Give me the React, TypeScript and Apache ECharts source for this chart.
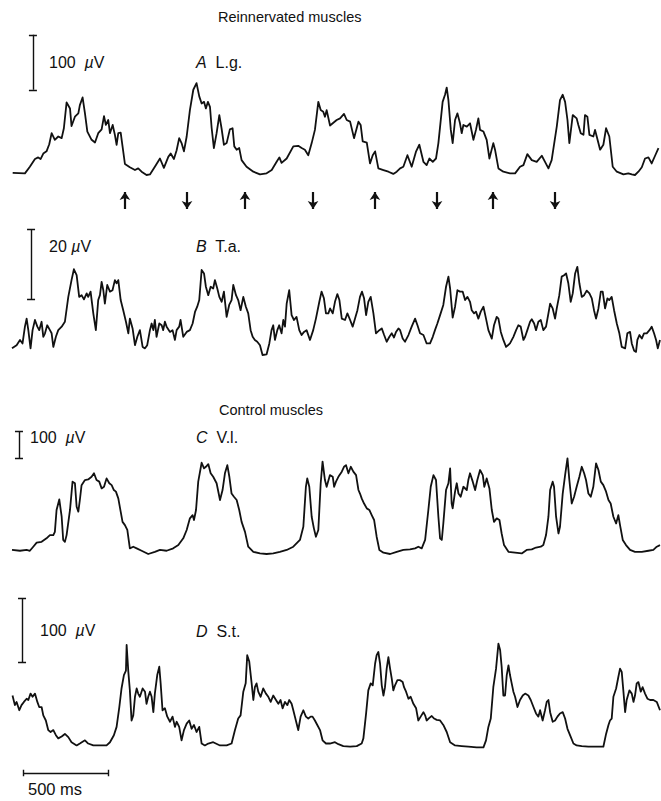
import React, { useEffect, useRef } from "react";
import * as echarts from "echarts";

// time (ms) , amplitude (µV above trace baseline)
const traceA: [number, number][] = [
  [4,4],[76,3],[105,15],[135,29],[154,32],[168,29],[184,39],[203,43],[219,56],[233,76],[252,64],[272,70],[292,67],[305,85],[321,132],[341,121],[350,89],[370,106],[390,112],[399,127],[415,141],[429,112],[443,79],[468,64],[488,59],[507,76],[527,83],[541,107],[552,91],[566,100],[576,76],[592,91],[605,73],[615,55],[625,76],[639,77],[650,52],[664,20],[693,14],[723,9],[742,12],[762,6],[791,0],[811,1],[840,15],[870,30],[893,13],[919,33],[933,39],[952,29],[968,45],[983,67],[997,58],[1011,43],[1027,70],[1046,118],[1066,155],[1085,167],[1101,143],[1115,130],[1129,133],[1140,121],[1152,133],[1164,124],[1174,85],[1187,49],[1203,76],[1219,109],[1232,85],[1246,55],[1262,58],[1281,83],[1297,85],[1307,52],[1321,46],[1336,49],[1350,27],[1379,15],[1419,6],[1458,1],[1497,3],[1527,9],[1556,24],[1572,32],[1585,22],[1615,30],[1654,52],[1683,53],[1703,49],[1722,46],[1742,36],[1762,58],[1781,82],[1801,133],[1815,118],[1830,115],[1840,106],[1850,118],[1870,90],
  [1886,94],[1909,100],[1929,103],[1952,111],[1968,100],[1988,97],[2011,67],[2037,97],[2050,91],[2062,61],[2086,59],[2105,21],[2121,36],[2135,43],[2154,12],[2184,9],[2213,6],[2242,2],[2262,6],[2282,12],[2301,15],[2325,36],[2350,15],[2376,43],[2395,55],[2419,24],[2438,18],[2454,30],[2474,24],[2493,30],[2507,58],[2532,133],[2546,146],[2556,159],[2566,136],[2580,82],[2591,58],[2605,100],[2619,112],[2634,94],[2644,76],[2654,91],[2674,88],[2693,94],[2713,64],[2728,82],[2742,103],[2752,82],[2772,79],[2791,64],[2807,30],[2830,58],[2840,46],[2860,12],[2889,6],[2928,3],[2958,3],[2987,15],[3007,18],[3030,38],[3056,27],[3085,24],[3115,35],[3134,24],[3154,12],[3173,27],[3203,88],[3222,136],[3238,146],[3252,133],[3266,100],[3277,58],[3297,109],[3320,103],[3330,91],[3344,76],[3360,73],[3369,109],[3383,106],[3395,73],[3418,70],[3428,82],[3438,70],[3458,46],[3477,55],[3493,85],[3512,70],[3532,15],[3556,6],[3595,1],[3624,3],[3644,1],[3663,0],[3683,6],[3703,14],[3722,30],[3742,32],[3761,21],[3781,35],[3801,49]
];

const traceB: [number, number][] = [
  [0,1.9],[27,2.8],[47,4.3],[62,3.3],[76,8.1],[86,10.4],[96,7.1],[109,1.9],[121,7.1],[135,10.0],[149,8.1],[160,7.1],[174,9.5],[184,5.2],[194,6.2],[207,8.5],[223,7.1],[233,6.2],[243,2.3],[258,5.2],[272,7.1],[292,8.1],[311,9.5],[331,16.6],[350,21.4],[364,24.5],[380,22.8],[395,16.6],[409,17.1],[423,15.9],[439,17.6],[448,16.6],[462,18.1],[478,11.9],[493,7.1],[507,15.7],[517,17.1],[527,20.9],[537,18.5],[546,14.7],[560,20.0],[576,18.1],[591,18.5],[605,21.4],[615,20.5],[625,21.4],[639,15.7],[654,12.8],[670,9.5],[684,6.2],[693,10.4],[709,7.6],[723,2.8],[737,5.2],[752,7.1],[768,2.3],[782,1.9],[795,2.8],[811,7.1],[821,9.0],[831,7.1],[840,10.0],[850,5.2],[866,9.0],[880,8.5],[889,7.1],[899,9.5],[909,8.1],[929,6.6],[944,7.1],[958,4.3],[968,7.1],[983,8.1],[991,10.0],[1007,5.2],[1027,6.6],[1046,7.1],[1062,9.0],[1076,12.3],[1089,13.8],[1101,15.7],[1115,24.3],[1129,23.3],[1140,19.5],[1154,17.1],[1168,19.5],[1183,19.0],[1193,21.4],[1207,19.0],[1219,16.6],[1233,15.2],[1246,18.1],[1262,10.9],[1277,14.3],[1291,15.7],[1301,20.0],[1317,17.1],[1330,15.7],[1344,12.8],[1360,16.6],[1375,13.8],[1389,11.9],[1403,7.1],[1415,5.2],[1428,4.3],[1442,3.8],[1458,2.8],[1473,0],[1497,0.2],[1513,3.3],[1526,7.1],[1536,8.5],[1546,4.3],[1560,7.1],[1571,8.5],[1585,6.2],[1595,10.0],[1605,8.1],[1615,14.7],[1630,18.5],[1644,11.4],[1658,10.0],[1673,10.9],[1689,7.1],[1703,5.7],[1717,6.6],[1732,7.1],[1752,4.3],[1771,7.1],[1787,10.4],[1807,15.2],[1820,18.1],[1834,16.2],[1846,11.9],[1860,11.9],[1870,13.3],
  [1886,11.9],[1899,15.2],[1913,17.4],[1925,15.7],[1939,10.4],[1958,10.0],[1972,11.9],[1988,10.0],[2003,8.1],[2017,10.4],[2031,12.8],[2046,16.6],[2058,18.1],[2070,16.2],[2082,11.4],[2095,15.2],[2109,16.6],[2125,11.9],[2140,6.2],[2160,7.1],[2174,7.6],[2188,5.7],[2203,3.8],[2219,5.2],[2233,6.2],[2246,5.0],[2258,6.6],[2272,7.6],[2282,7.1],[2297,4.7],[2311,3.8],[2331,5.7],[2350,8.1],[2370,10.4],[2384,8.5],[2399,6.2],[2419,5.7],[2438,3.3],[2458,3.3],[2474,5.2],[2487,7.1],[2501,9.0],[2517,11.4],[2536,14.3],[2552,19.5],[2566,22.4],[2576,19.0],[2591,10.7],[2605,13.8],[2619,18.5],[2634,18.1],[2650,18.1],[2664,15.7],[2678,16.6],[2693,15.2],[2703,12.8],[2717,11.9],[2728,12.4],[2742,10.4],[2756,12.4],[2772,13.8],[2787,10.4],[2801,7.1],[2821,4.7],[2834,8.5],[2850,10.9],[2860,10.4],[2874,6.6],[2889,4.3],[2905,2.3],[2928,3.3],[2948,5.2],[2964,7.1],[2977,8.5],[2991,8.1],[3007,4.3],[3017,5.2],[3030,7.1],[3046,9.5],[3056,10.2],[3070,9.0],[3081,7.1],[3095,9.5],[3109,10.0],[3124,7.1],[3140,8.1],[3154,11.9],[3164,14.7],[3179,13.3],[3193,10.4],[3203,13.3],[3218,17.1],[3232,22.4],[3246,22.8],[3258,23.3],[3271,20.5],[3285,15.2],[3297,17.6],[3311,23.3],[3324,25.2],[3336,20.5],[3350,16.6],[3364,17.1],[3379,18.4],[3395,17.6],[3409,16.2],[3422,12.8],[3434,10.4],[3448,13.3],[3462,18.1],[3473,18.1],[3487,13.3],[3501,16.2],[3512,15.7],[3526,16.6],[3540,12.8],[3556,9.0],[3571,6.2],[3585,2.3],[3605,1.9],[3618,6.2],[3634,6.6],[3644,3.3],[3658,1.2],[3669,0.9],[3677,4.3],[3689,5.7],[3703,4.7],[3716,6.2],[3732,6.2],[3748,7.1],[3761,8.1],[3775,6.2],[3787,4.3],[3797,1.9],[3810,4.3]
];

const traceC: [number, number][] = [
  [0,15],[47,12],[86,15],[105,12],[125,27],[145,42],[174,45],[203,58],[223,70],[243,70],[252,82],[262,163],[278,202],[292,138],[301,52],[311,45],[321,70],[341,163],[356,268],[370,262],[380,175],[390,157],[399,200],[409,255],[429,274],[448,276],[468,286],[482,299],[497,274],[513,268],[527,243],[541,249],[556,280],[572,262],[586,255],[599,237],[611,231],[625,206],[639,157],[650,119],[664,107],[678,89],[693,21],[713,27],[733,21],[762,12],[801,0],[840,8],[870,15],[909,12],[948,21],[978,33],[1007,58],[1027,89],[1046,132],[1062,144],[1070,126],[1082,163],[1095,268],[1115,338],[1129,317],[1140,323],[1154,333],[1168,299],[1183,286],[1203,262],[1223,200],[1238,237],[1252,299],[1266,329],[1278,286],[1291,224],[1305,212],[1321,200],[1336,163],[1350,119],[1370,82],[1389,27],[1419,8],[1458,2],[1497,0],[1536,2],[1575,8],[1615,15],[1654,27],[1693,52],[1713,101],[1728,249],[1736,280],[1748,249],[1762,138],[1775,95],[1787,64],[1801,89],[1815,262],[1826,342],[1840,274],[1850,249],[1869,292],
  [1886,286],[1894,249],[1905,268],[1919,286],[1939,305],[1952,323],[1964,329],[1978,299],[1992,323],[2007,305],[2023,292],[2037,237],[2046,224],[2056,206],[2070,187],[2086,169],[2101,163],[2115,144],[2129,126],[2144,64],[2160,15],[2184,5],[2223,0],[2262,8],[2301,15],[2340,17],[2370,21],[2389,27],[2409,21],[2429,52],[2448,163],[2462,249],[2478,292],[2493,274],[2507,138],[2517,58],[2527,52],[2536,113],[2552,237],[2566,262],[2576,317],[2585,187],[2591,169],[2605,231],[2615,262],[2625,224],[2638,212],[2654,249],[2674,237],[2683,274],[2693,299],[2709,268],[2723,237],[2736,274],[2752,311],[2768,292],[2777,249],[2791,280],[2807,243],[2821,163],[2834,119],[2850,132],[2866,126],[2879,76],[2893,33],[2919,8],[2958,5],[2997,2],[3026,15],[3056,17],[3081,24],[3109,27],[3124,33],[3140,70],[3154,138],[3164,237],[3179,268],[3187,249],[3199,138],[3213,76],[3222,101],[3238,224],[3252,292],[3266,354],[3277,274],[3291,187],[3305,212],[3320,249],[3336,286],[3350,323],[3364,299],[3375,274],[3389,224],[3403,212],[3418,249],[3434,336],[3448,311],[3462,268],[3477,255],[3493,231],[3507,200],[3520,187],[3536,138],[3552,113],[3565,144],[3575,107],[3591,52],[3610,33],[3634,15],[3663,8],[3703,8],[3742,12],[3771,15],[3791,27],[3810,33]
];

const traceD: [number, number][] = [
  [3,82],[17,67],[27,72],[43,59],[56,67],[70,72],[86,77],[96,75],[109,85],[121,80],[135,85],[149,72],[160,64],[174,64],[184,51],[199,43],[213,28],[227,25],[243,28],[258,20],[272,15],[292,18],[311,22],[331,17],[350,9],[380,4],[399,7],[429,12],[448,7],[478,4],[517,4],[556,4],[576,9],[599,20],[615,33],[631,64],[644,93],[658,114],[670,121],[674,161],[684,119],[693,90],[703,43],[713,51],[723,80],[733,93],[742,85],[752,80],[768,93],[782,88],[791,69],[801,80],[811,88],[821,80],[831,56],[840,85],[854,114],[866,127],[874,101],[885,59],[899,62],[913,49],[929,41],[944,49],[958,33],[968,41],[983,33],[997,12],[1011,28],[1027,38],[1042,43],[1056,30],[1070,36],[1085,25],[1101,33],[1115,7],[1134,4],[1154,7],[1183,9],[1223,4],[1262,4],[1291,7],[1311,28],[1330,46],[1344,51],[1360,88],[1374,101],[1383,145],[1395,135],[1409,101],[1419,75],[1428,95],[1438,101],[1448,88],[1462,80],[1477,93],[1493,85],[1507,80],[1521,72],[1536,82],[1552,75],[1566,69],[1579,75],[1591,62],[1605,72],[1619,67],[1630,75],[1644,69],[1654,59],[1669,43],[1683,28],[1697,49],[1713,59],[1728,49],[1742,46],[1756,49],[1767,49],[1781,43],[1795,36],[1811,28],[1826,12],[1846,7],[1869,7],
  [1899,9],[1919,6],[1948,3],[1988,2],[2027,3],[2056,7],[2066,15],[2082,54],[2095,90],[2109,101],[2121,98],[2135,132],[2144,145],[2154,150],[2164,132],[2174,98],[2184,82],[2193,95],[2203,124],[2213,142],[2223,124],[2233,108],[2242,90],[2252,98],[2266,106],[2282,106],[2297,103],[2305,95],[2317,88],[2331,77],[2344,80],[2360,69],[2376,62],[2389,43],[2403,49],[2419,56],[2429,51],[2438,43],[2454,47],[2468,50],[2482,46],[2497,44],[2517,43],[2536,36],[2556,25],[2576,9],[2605,4],[2644,3],[2683,2],[2732,1],[2772,1],[2787,12],[2801,33],[2815,46],[2830,95],[2846,124],[2860,163],[2870,153],[2879,127],[2889,82],[2899,82],[2909,114],[2919,129],[2928,114],[2938,101],[2948,88],[2958,80],[2972,64],[2987,75],[3003,82],[3017,85],[3036,82],[3050,75],[3066,64],[3081,54],[3095,49],[3105,59],[3120,43],[3134,59],[3144,72],[3154,75],[3164,56],[3179,41],[3193,43],[3207,49],[3222,54],[3238,56],[3252,46],[3266,30],[3281,20],[3301,7],[3320,4],[3350,3],[3389,2],[3438,2],[3477,2],[3493,22],[3507,36],[3516,43],[3526,46],[3536,80],[3552,93],[3565,111],[3575,124],[3585,119],[3595,88],[3605,56],[3614,75],[3630,90],[3644,85],[3654,72],[3663,82],[3673,101],[3683,103],[3697,88],[3708,95],[3722,85],[3736,77],[3752,75],[3771,75],[3791,72],[3810,59]
];

// stimulus markers under trace A (ms)
const arrowsUp = [664, 1370, 2134, 2828];
const arrowsDown = [1029, 1770, 2499, 3193];

// calibration bars
const barValuesUV = [100, 20, 100, 100];
const timeBarMs = 500;

const FONT = '"Liberation Sans", Arial, Helvetica, sans-serif';
const INK = "#111";

export default function App() {
  const ref = useRef<HTMLDivElement>(null);
  useEffect(() => {
    const chart = echarts.init(ref.current!, null, { renderer: "svg" });

    // layout for each panel: baseline pixel, µV per pixel, axis range, calibration bar position
    const panels = [
      { data: traceA, base: 175, k: 100 / 55, min: -70, max: 265, barT: 123, barLo: 155 },
      { data: traceB, base: 355, k: 20 / 70, min: -2, max: 38, barT: 112, barLo: 16 },
      { data: traceC, base: 554, k: 100 / 27, min: -5, max: 470, barT: 41, barLo: 355 },
      { data: traceD, base: 748, k: 100 / 64, min: -50, max: 245, barT: 59, barLo: 134 },
    ];
    const msPerPx = 500 / 85;

    const grid: any[] = [];
    const xAxis: any[] = [];
    const yAxis: any[] = [];
    const series: any[] = [];

    panels.forEach((p, i) => {
      grid.push({
        left: 12,
        width: 648,
        top: p.base - p.max / p.k,
        height: (p.max - p.min) / p.k,
      });
      xAxis.push({ type: "value", gridIndex: i, min: 0, max: 3810, show: false });
      yAxis.push({ type: "value", gridIndex: i, min: p.min, max: p.max, show: false });
      series.push({
        type: "line",
        xAxisIndex: i,
        yAxisIndex: i,
        data: p.data,
        showSymbol: false,
        symbol: "none",
        silent: true,
        lineStyle: { color: INK, width: 1.8, join: "round" },
        clip: false,
      });
      const hi = p.barLo + barValuesUV[i];
      const serif = 4 * msPerPx;
      series.push({
        type: "lines",
        coordinateSystem: "cartesian2d",
        xAxisIndex: i,
        yAxisIndex: i,
        silent: true,
        lineStyle: { color: INK, width: 1.4, opacity: 1, curveness: 0 },
        data: [
          { coords: [[p.barT, p.barLo], [p.barT, hi]] },
          { coords: [[p.barT - serif, p.barLo], [p.barT + serif, p.barLo]] },
          { coords: [[p.barT - serif, hi], [p.barT + serif, hi]] },
        ],
      });
    });

    // arrows under trace A
    series.push({
      type: "lines",
      coordinateSystem: "cartesian2d",
      xAxisIndex: 0,
      yAxisIndex: 0,
      silent: true,
      symbol: ["none", "arrow"],
      symbolSize: 8,
      lineStyle: { color: INK, width: 2.2, opacity: 1, curveness: 0 },
      data: [
        ...arrowsUp.map((t) => ({ coords: [[t, -62], [t, -31]] })),
        ...arrowsDown.map((t) => ({ coords: [[t, -31], [t, -62]] })),
      ],
    });

    // time calibration bar under trace D
    const t0 = 65;
    series.push({
      type: "lines",
      coordinateSystem: "cartesian2d",
      xAxisIndex: 3,
      yAxisIndex: 3,
      silent: true,
      lineStyle: { color: INK, width: 1.4, opacity: 1, curveness: 0 },
      data: [
        { coords: [[t0, -39], [t0 + timeBarMs, -39]] },
        { coords: [[t0, -44], [t0, -34]] },
        { coords: [[t0 + timeBarMs, -44], [t0 + timeBarMs, -34]] },
      ],
    });

    const txt = (x: number, y: number, text: string, size = 16) => ({
      type: "text",
      x,
      y,
      silent: true,
      style: {
        text,
        fill: INK,
        fontFamily: FONT,
        fontSize: size,
        verticalAlign: "middle",
        rich: {
          i: { fontStyle: "italic", fontFamily: FONT, fontSize: size, fill: INK },
        },
      },
    });

    const graphic = [
      txt(218, 17, "Reinnervated muscles", 14.5),
      txt(49, 62, "100  {i|µ}V"),
      txt(196, 62, "{i|A}  L.g."),
      txt(49, 246, "20 {i|µ}V"),
      txt(196, 246, "{i|B}  T.a."),
      txt(219, 410, "Control muscles", 14.5),
      txt(30, 437, "100  {i|µ}V"),
      txt(196, 437, "{i|C}  V.l."),
      txt(40, 630, "100  {i|µ}V"),
      txt(196, 631, "{i|D}  S.t."),
      txt(28, 789, "500 ms", 16.5),
    ];

    chart.setOption({
      animation: false,
      backgroundColor: "#fff",
      grid,
      xAxis,
      yAxis,
      series,
      graphic,
    });
    return () => chart.dispose();
  }, []);
  return (
    <div
      ref={ref}
      style={{ position: "fixed", left: 0, top: 0, width: 661, height: 801, background: "#fff" }}
    />
  );
}
